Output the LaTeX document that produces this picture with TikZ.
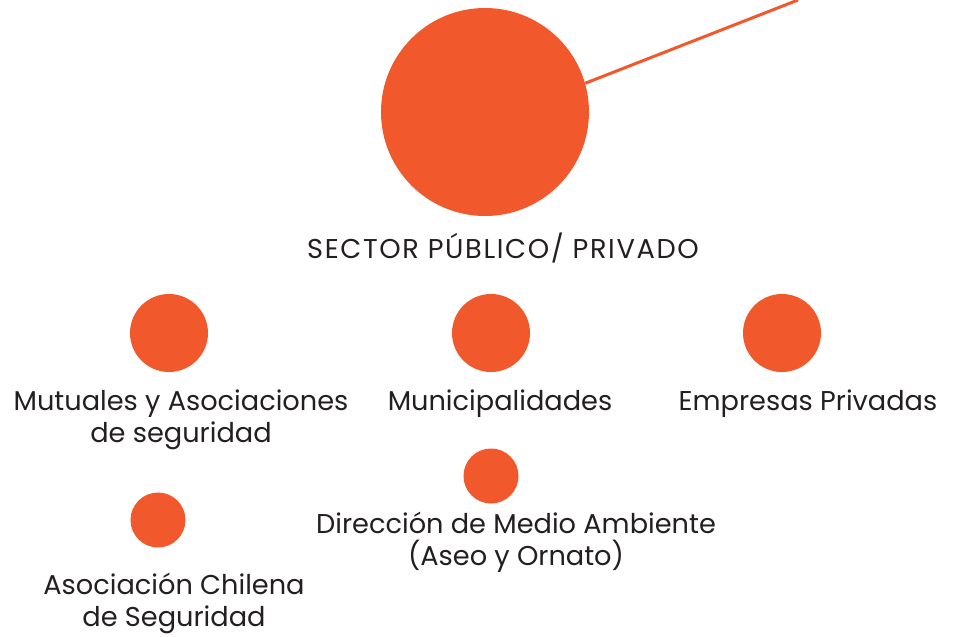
\documentclass[tikz,border=0pt]{standalone}
\usepackage{fontspec}
\setmainfont{Poppins}
\usepackage{xcolor}
\usetikzlibrary{positioning}
\definecolor{naranja}{RGB}{241,88,43}
\definecolor{texto}{RGB}{35,31,32}
\tikzset{
    dot/.style = {circle, fill = naranja, inner sep = 0pt},
    big/.style = {dot, minimum size = 208pt},
    mid/.style = {dot, minimum size = 78pt},
    small/.style = {dot, minimum size = 55pt},
    etiqueta/.style = {inner sep = 0pt, align = center, text = texto,
        font = \fontsize{27.2pt}{32pt}\selectfont},
    enlace/.style = {draw = naranja, line width = 3pt}
}
\begin{document}
\begin{tikzpicture}[x = 1pt, y = -1pt]
    \useasboundingbox (0,0) rectangle (953,637);
    \node [big] (sector) at (485,112) {};
    \coordinate (fin) at (798,0);
    \draw [enlace] (sector.16.7) -- (fin);
    \node [etiqueta, below = 16pt of sector, xshift = 18pt] (tsector) {\addfontfeature{LetterSpace=6}SECTOR PÚBLICO/ PRIVADO};

    \node [mid] (mutuales) at (169,333) {};
    \node [mid] (muni) at (491,333) {};
    \node [mid] (empresas) at (782,333) {};
    \node [small] (medio) at (491,476) {};
    \node [small] (achs) at (158,520) {};

    \node [etiqueta, below = 17pt of mutuales, xshift = 12pt] (tmutuales) {Mutuales y Asociaciones\\de seguridad};
    \node [etiqueta, below = 17pt of muni, xshift = 9pt] (tmuni) {Municipalidades};
    \node [etiqueta, below = 17pt of empresas, xshift = 26pt] (tempresas) {Empresas Privadas};
    \node [etiqueta, below = 8pt of medio, xshift = 25pt] (tmedio) {Dirección de Medio Ambiente\\(Aseo y Ornato)};
    \node [etiqueta, below = 25.5pt of achs, xshift = 16pt] (tachs) {Asociación Chilena\\de Seguridad};
\end{tikzpicture}
\end{document}
